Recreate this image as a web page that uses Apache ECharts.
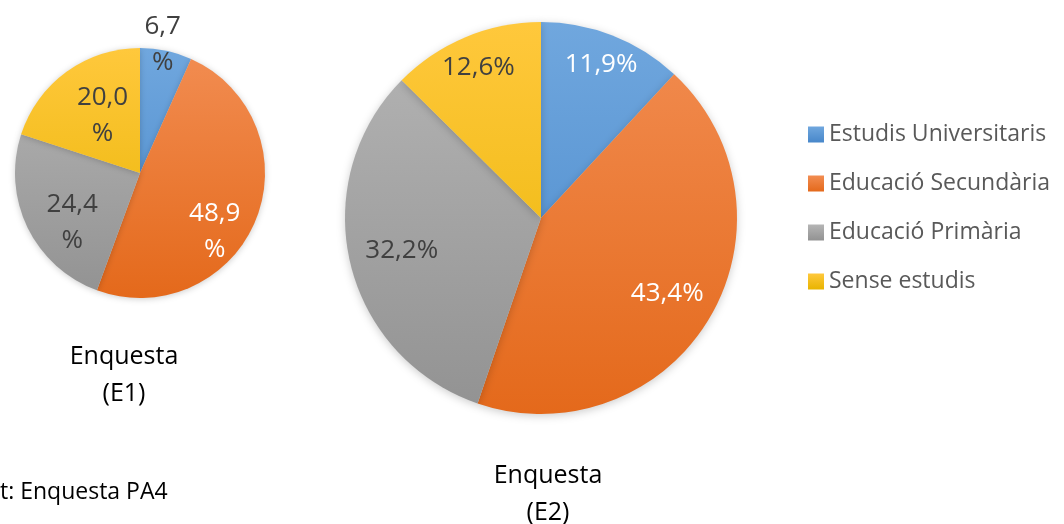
<!DOCTYPE html>
<html>
<head>
<meta charset="utf-8">
<script src="https://cdn.jsdelivr.net/npm/echarts@6/dist/echarts.min.js"></script>
<style>
html, body { margin: 0; background: #fff; }
#chart { width: 1064px; height: 524px; }
</style>
</head>
<body>
<div id="chart"></div>
<script>
// dades
var categories = ['Estudis Universitaris', 'Educació Secundària', 'Educació Primària', 'Sense estudis'];
var valuesE1 = [6.7, 48.9, 24.4, 20.0];
var valuesE2 = [11.9, 43.4, 32.2, 12.6];
var surveyNames = ['Enquesta\n(E1)', 'Enquesta\n(E2)'];
var sourceText = 't: Enquesta PA4';

// estil
var topColors = ['#70A7DE', '#F28D52', '#B5B5B5', '#FFC83C'];
var bottomColors = ['#4787CA', '#E4691B', '#929292', '#E8B400'];
var labelColorsE1 = ['#404040', '#ffffff', '#404040', '#404040'];
var labelColorsE2 = ['#ffffff', '#ffffff', '#404040', '#404040'];
var pieE1 = { cx: 140, cy: 173, r: 125 };
var pieE2 = { cx: 541, cy: 218, r: 196 };
// posicio relativa de les etiquetes (radi, correccio d'angle en graus)
var labelRatioE1 = [1.04, 0.76, 0.67, 0.55];
var labelTurnE1 = [-2, 16, -10, 3];
var labelRatioE2 = [0.84, 0.75, 0.73, 0.83];
var labelTurnE2 = [0, 0, 0, 0];

function fmt(v) {
    return v.toFixed(1).replace('.', ',');
}

function grad(i, pie) {
    return new echarts.graphic.LinearGradient(0, pie.cy - pie.r, 0, pie.cy + pie.r, [
        { offset: 0, color: topColors[i] },
        { offset: 1, color: bottomColors[i] }
    ], true);
}

function buildData(values, pie, labelColors) {
    return values.map(function(v, i) {
        return {
            name: categories[i],
            value: v,
            itemStyle: { color: grad(i, pie) },
            label: { color: labelColors[i] }
        };
    });
}

function labelPos(values, i, pie, ratios, turns) {
    var total = values.reduce(function(a, b) { return a + b; }, 0);
    var before = 0;
    for (var k = 0; k < i; k++) before += values[k];
    var a = (before + values[i] / 2) / total * Math.PI * 2 + turns[i] * Math.PI / 180;
    return {
        x: pie.cx + ratios[i] * pie.r * Math.sin(a),
        y: pie.cy - ratios[i] * pie.r * Math.cos(a),
        align: 'center',
        verticalAlign: 'middle'
    };
}

var myChart = echarts.init(document.getElementById('chart'));

var legendData = categories.map(function(c, i) {
    return {
        name: c,
        itemStyle: {
            color: new echarts.graphic.LinearGradient(0, 0, 0, 1, [
                { offset: 0, color: topColors[i] },
                { offset: 1, color: bottomColors[i] }
            ])
        }
    };
});

var option = {
    backgroundColor: '#ffffff',
    animation: false,
    legend: {
        orient: 'vertical',
        left: 803,
        top: 118,
        icon: 'rect',
        itemWidth: 16,
        itemHeight: 16,
        itemGap: 26,
        data: legendData,
        textStyle: {
            fontFamily: 'Open Sans',
            fontSize: 23,
            color: '#595959',
            padding: [0, 0, 0, 0]
        }
    },
    graphic: [
        {
            type: 'text', x: 124, y: 338,
            style: { text: surveyNames[0], fontFamily: 'Open Sans', fontSize: 25, lineHeight: 37, fill: '#000', textAlign: 'center' }
        },
        {
            type: 'text', x: 548, y: 457,
            style: { text: surveyNames[1], fontFamily: 'Open Sans', fontSize: 25, lineHeight: 37, fill: '#000', textAlign: 'center' }
        },
        {
            type: 'text', x: 0, y: 481,
            style: { text: sourceText, fontFamily: 'Open Sans', fontSize: 23, fill: '#000', textAlign: 'left' }
        }
    ],
    series: [
        {
            name: 'E1',
            type: 'pie',
            center: [pieE1.cx, pieE1.cy],
            radius: pieE1.r,
            startAngle: 90,
            clockwise: true,
            data: buildData(valuesE1, pieE1, labelColorsE1),
            itemStyle: { shadowBlur: 6, shadowColor: 'rgba(0,0,0,0.2)', shadowOffsetY: 1 },
            label: {
                show: true,
                position: 'inside',
                fontFamily: 'Open Sans',
                fontSize: 26,
                lineHeight: 36,
                formatter: function(p) { return fmt(p.value) + '\n%'; }
            },
            labelLine: { show: false },
            emphasis: { disabled: true },
            labelLayout: function(params) {
                return labelPos(valuesE1, params.dataIndex, pieE1, labelRatioE1, labelTurnE1);
            }
        },
        {
            name: 'E2',
            type: 'pie',
            center: [pieE2.cx, pieE2.cy],
            radius: pieE2.r,
            startAngle: 90,
            clockwise: true,
            data: buildData(valuesE2, pieE2, labelColorsE2),
            itemStyle: { shadowBlur: 8, shadowColor: 'rgba(0,0,0,0.2)', shadowOffsetY: 2 },
            label: {
                show: true,
                position: 'inside',
                fontFamily: 'Open Sans',
                fontSize: 26,
                formatter: function(p) { return fmt(p.value) + '%'; }
            },
            labelLine: { show: false },
            emphasis: { disabled: true },
            labelLayout: function(params) {
                return labelPos(valuesE2, params.dataIndex, pieE2, labelRatioE2, labelTurnE2);
            }
        }
    ]
};

myChart.setOption(option);
</script>
</body>
</html>
